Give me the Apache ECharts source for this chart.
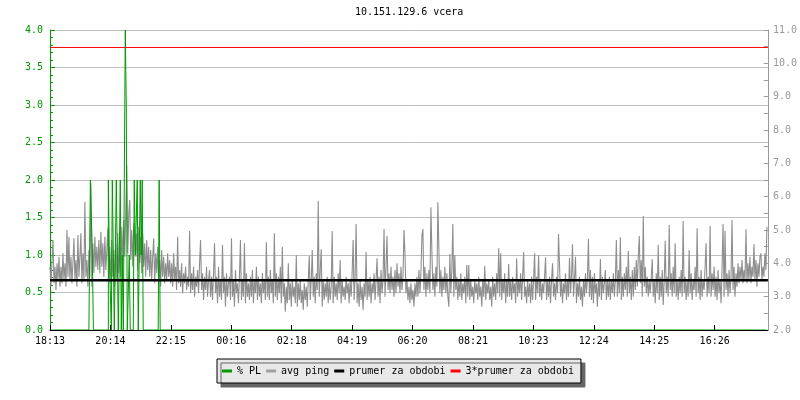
<!DOCTYPE html>
<html><head><meta charset="utf-8">
<script src="https://cdn.jsdelivr.net/npm/echarts@6/dist/echarts.min.js"></script>
<style>html,body{margin:0;padding:0;background:#fff}#c{width:800px;height:400px}</style>
</head><body><div id="c"></div>
<script>
const chartTitle = '10.151.129.6 vcera';
const xTickLabels = ['18:13','20:14','22:15','00:16','02:18','04:19','06:20','08:21','10:23','12:24','14:25','16:26'];
const tickStepMinutes = 121.2;
const minutesPerSample = 2;
const totalMinutes = 1440;

// avg ping (ms), one sample every 2 minutes
const avgPing = [
3.9,3.3,4.1,4.7,3.4,3.9,3.2,4.0,3.5,4.2,3.3,3.9,3.4,4.3,3.5,4.0,3.3,5.0,3.6,4.8,
3.5,4.2,3.4,4.0,4.75,3.5,4.1,3.3,4.85,3.6,4.2,4.9,3.4,4.3,3.5,5.85,3.6,4.1,3.3,4.4,
3.6,6.4,3.3,4.6,3.7,4.8,3.9,4.5,3.8,4.7,3.7,4.95,3.9,4.6,3.6,4.8,3.8,4.4,5.05,3.5,
4.5,3.4,4.7,3.6,4.4,3.3,4.6,3.5,4.9,3.7,4.5,3.6,5.1,4.0,5.3,4.2,5.6,6.95,4.3,5.5,
5.9,4.1,5.0,3.9,5.2,5.25,4.2,4.9,3.8,5.1,4.0,4.8,3.7,4.9,3.9,4.6,3.6,4.7,3.8,4.5,
3.6,4.4,3.5,4.2,4.75,3.4,4.3,3.7,4.5,3.5,4.1,3.3,4.4,3.6,4.2,3.4,4.0,3.5,4.3,3.6,
4.1,3.4,4.0,3.3,4.3,3.5,3.9,3.2,4.8,3.4,3.8,3.3,4.0,3.1,3.7,3.4,3.9,3.2,3.6,3.3,
4.97,3.1,3.7,3.2,3.9,3.0,3.6,3.3,3.8,3.1,4.0,4.7,3.2,3.7,2.9,3.6,3.2,3.9,3.0,3.5,
3.8,3.0,3.6,2.9,3.7,4.6,3.1,3.6,2.8,3.9,3.0,3.5,2.9,4.55,3.1,3.6,2.7,3.7,3.0,3.4,
3.6,2.9,4.75,3.0,3.5,2.7,3.8,3.1,3.4,2.8,3.6,4.7,2.9,3.5,3.0,4.6,2.8,3.7,3.0,3.4,
2.9,3.6,3.0,3.8,2.8,3.5,3.1,3.9,2.9,3.6,3.0,3.4,2.8,3.7,3.1,3.5,2.9,4.63,3.0,3.6,
2.9,3.8,3.1,3.5,2.8,4.9,3.0,3.7,2.9,3.6,3.1,3.9,2.8,4.5,3.0,3.4,2.55,3.3,2.8,4.0,
2.9,3.4,2.7,3.5,3.0,3.3,2.8,4.24,2.7,3.4,2.9,3.5,2.8,3.2,2.6,3.4,2.9,3.3,2.7,3.5,
4.22,2.9,3.5,4.4,3.0,3.6,2.8,3.7,3.2,5.87,3.0,3.8,4.42,2.7,3.5,2.9,3.4,3.0,3.6,2.8,
3.5,2.9,3.3,4.97,2.8,3.6,3.0,3.4,2.9,3.7,3.1,4.1,2.8,3.5,3.0,3.3,2.9,3.6,3.1,3.4,
2.8,3.5,3.0,3.7,4.7,2.9,3.6,5.18,2.8,3.4,2.7,3.5,2.9,3.3,2.6,3.4,3.0,4.34,2.9,3.5,
3.0,3.6,2.8,3.4,3.1,3.7,2.9,3.5,4.15,3.0,3.6,2.8,3.8,3.1,3.5,5.03,3.0,3.9,4.82,3.2,
3.7,3.1,3.9,3.2,3.6,3.0,3.8,3.1,4.0,3.3,3.7,3.1,3.9,3.2,3.6,5.0,4.3,3.1,3.5,2.9,
3.3,2.8,3.4,2.9,3.2,2.7,3.4,3.0,3.6,3.0,3.8,3.1,3.7,4.85,5.03,3.2,3.9,3.0,3.7,3.2,
3.8,3.1,5.68,4.35,3.2,3.7,3.0,3.9,3.3,5.83,4.45,3.1,3.8,3.0,3.6,3.2,3.9,3.1,3.7,3.0,
2.7,4.28,3.1,3.8,5.18,3.0,4.25,3.2,3.6,2.9,3.5,3.0,3.7,2.9,3.4,3.1,3.6,2.8,3.95,3.0,
3.95,2.9,3.5,3.0,3.3,2.8,3.5,3.1,3.4,2.9,3.6,3.0,3.3,2.7,3.5,3.0,3.92,2.9,3.4,3.1,
3.5,2.9,3.3,2.7,3.6,3.0,3.4,2.9,3.7,3.1,4.45,3.0,4.3,2.9,3.5,3.1,3.7,2.8,3.5,3.0,
3.98,3.0,3.5,2.9,3.6,3.1,3.4,2.8,4.15,3.0,3.5,3.1,3.7,2.9,3.6,4.34,3.0,3.3,2.8,3.5,
3.0,3.4,2.8,3.6,2.9,3.5,4.3,2.9,3.6,3.1,4.24,3.0,3.5,2.9,3.4,3.1,3.6,4.18,2.9,3.5,
3.0,3.6,2.8,3.5,4.0,3.0,3.4,2.9,3.6,3.1,4.88,3.95,3.0,3.5,2.8,3.4,3.1,3.7,2.9,3.5,
3.0,4.17,3.1,3.6,4.57,3.0,3.5,4.2,2.8,3.4,3.0,3.6,2.9,3.3,2.7,3.5,3.0,3.7,3.1,3.6,
4.73,3.0,3.8,2.9,3.6,2.8,3.7,3.1,3.4,2.7,3.5,3.0,4.13,2.9,3.6,3.1,3.4,3.8,2.9,3.5,
3.0,3.6,2.9,3.5,3.1,3.7,3.0,3.5,4.7,3.0,3.8,3.1,4.78,2.9,3.6,3.0,3.7,3.2,3.9,3.0,
4.38,3.1,3.6,2.9,3.8,3.0,3.9,3.2,4.1,3.3,4.2,4.82,3.4,4.1,3.0,5.42,3.3,3.9,3.1,3.6,
3.0,3.5,3.1,3.6,4.12,3.0,3.5,2.8,3.7,3.1,4.55,2.9,3.6,3.0,3.8,2.75,3.5,4.68,3.1,3.6,
3.0,5.15,3.2,3.7,3.0,3.9,3.1,4.6,3.0,3.5,2.9,3.6,3.1,3.8,3.0,5.27,3.1,3.6,2.9,3.5,
3.0,4.4,3.1,3.7,2.9,3.5,3.2,3.9,3.0,5.05,3.1,3.6,2.9,3.8,3.0,3.5,3.2,3.9,4.6,3.0,
3.6,3.1,5.12,3.0,3.7,3.2,3.9,3.0,3.6,2.9,3.8,3.1,3.5,2.8,3.9,5.18,3.0,4.98,3.2,3.7,
3.0,3.8,3.1,3.6,5.3,3.2,3.9,3.0,3.7,3.3,4.0,3.4,3.9,3.5,4.1,3.4,3.8,3.5,5.02,3.4,
4.0,3.5,4.2,3.4,3.9,3.6,4.57,3.5,4.1,3.3,4.0,3.6,4.2,4.3,3.5,3.9,3.6,4.3,3.8,5.1
];

// packet loss (%): sample index and value of non-zero samples (all other samples are 0)
const plIndex = [41,42,43,59,60,61,63,64,67,68,70,71,73,76,77,80,85,86,87,88,91,92,93,110];
const plValue = [ 2, 2, 1, 2, 1, 1, 2, 1, 2, 1, 1, 2, 1, 4, 3, 1, 2, 1, 1, 2, 2, 1, 2, 2];

const meanPing = 3.492;              // prumer za obdobi
const tripleMeanPing = 3 * meanPing; // 3*prumer za obdobi

const FONT = '"DejaVu Sans Mono", monospace';
const GREEN = '#009900', GRAY = '#8e8e8e', AXGRAY = '#999999';

const pingData = avgPing.map((v, i) => [i * minutesPerSample, v]);
const plFull = avgPing.map(() => 0);
plIndex.forEach((idx, k) => { plFull[idx] = plValue[k]; });
const plData = plFull.map((v, i) => [i * minutesPerSample, v]);
const meanData = [[0, meanPing], [totalMinutes, meanPing]];
const tripleData = [[0, tripleMeanPing], [totalMinutes, tripleMeanPing]];
const tickValues = xTickLabels.map((_, k) => Math.round(k * tickStepMinutes * 10) / 10);

const chart = echarts.init(document.getElementById('c'), null, {renderer: 'canvas'});
chart.setOption({
  animation: false,
  backgroundColor: '#fff',
  title: {
    text: chartTitle, left: 355, top: 7, padding: 0,
    textStyle: {fontFamily: FONT, fontSize: 10, fontWeight: 'normal', color: '#000'}
  },
  grid: {left: 50, right: 30, top: 30, bottom: 70, containLabel: false},
  legend: {
    data: ['% PL', 'avg ping', 'prumer za obdobi', '3*prumer za obdobi'],
    left: 217, top: 359, padding: [7, 7, 7, 5], itemGap: 5,
    icon: 'rect', itemWidth: 10, itemHeight: 3,
    backgroundColor: '#e8e8e8', borderColor: '#000', borderWidth: 1,
    shadowColor: '#666', shadowBlur: 0, shadowOffsetX: 4, shadowOffsetY: 4,
    selectedMode: false,
    textStyle: {fontFamily: FONT, fontSize: 10, color: '#000'}
  },
  xAxis: {
    type: 'value', min: 0, max: totalMinutes,
    axisLine: {onZero: false, lineStyle: {color: '#000', width: 1}},
    axisTick: {show: true, inside: true, length: 5, customValues: tickValues, lineStyle: {color: '#000'}},
    axisLabel: {
      customValues: tickValues, margin: 6, color: '#000', fontFamily: FONT, fontSize: 10,
      formatter: (v) => { const k = tickValues.indexOf(v); return k >= 0 ? xTickLabels[k] : ''; }
    },
    splitLine: {show: false}, z: 10
  },
  yAxis: [
    {
      type: 'value', min: 0, max: 4, interval: 0.5, position: 'left',
      axisLine: {show: true, onZero: false, lineStyle: {color: GREEN}},
      axisTick: {show: true, inside: true, length: 5, lineStyle: {color: GREEN}},
      minorTick: {show: true, splitNumber: 5, length: 3, lineStyle: {color: GREEN}},
      axisLabel: {margin: 7, color: GREEN, fontFamily: FONT, fontSize: 10, formatter: (v) => v.toFixed(1)},
      splitLine: {show: true, lineStyle: {color: '#c0c0c0', width: 1}}
    },
    {
      type: 'value', min: 2, max: 11, interval: 1, position: 'right',
      axisLine: {show: true, onZero: false, lineStyle: {color: AXGRAY}},
      axisTick: {show: true, inside: true, length: 4, lineStyle: {color: AXGRAY}},
      minorTick: {show: true, splitNumber: 2, length: 4, lineStyle: {color: AXGRAY}},
      axisLabel: {margin: 5, color: AXGRAY, fontFamily: FONT, fontSize: 10, formatter: (v) => v.toFixed(1)},
      splitLine: {show: false}
    }
  ],
  series: [
    {
      name: '% PL', type: 'line', yAxisIndex: 0, data: plData, step: 'middle',
      showSymbol: false, symbol: 'none', z: 3, color: GREEN,
      lineStyle: {color: GREEN, width: 1}
    },
    {
      name: 'avg ping', type: 'line', yAxisIndex: 1, data: pingData,
      showSymbol: false, symbol: 'none', z: 2, color: '#a0a0a0',
      lineStyle: {color: GRAY, width: 1.1}
    },
    {
      name: 'prumer za obdobi', type: 'line', yAxisIndex: 1, data: meanData,
      showSymbol: false, symbol: 'none', z: 4, color: '#000',
      lineStyle: {color: '#000', width: 2.5}
    },
    {
      name: '3*prumer za obdobi', type: 'line', yAxisIndex: 1, data: tripleData,
      showSymbol: false, symbol: 'none', z: 4, color: '#ff0000',
      lineStyle: {color: '#ff0000', width: 1}
    }
  ]
});
</script>
</body></html>
